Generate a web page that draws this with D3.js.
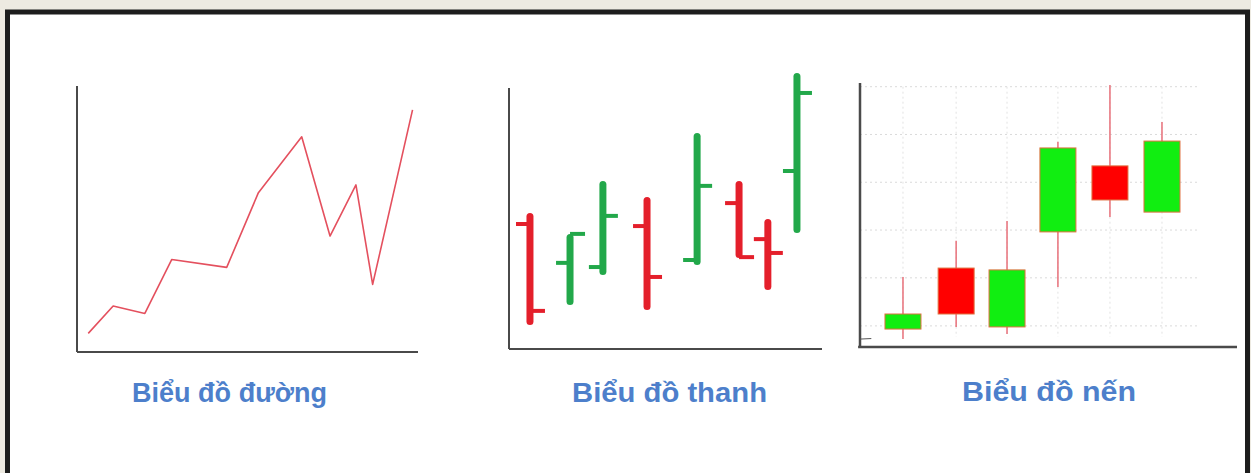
<!DOCTYPE html>
<html>
<head>
<meta charset="utf-8">
<script src="https://cdn.jsdelivr.net/npm/d3@7"></script>
<style>
  html, body { margin: 0; padding: 0; background: #edeae1; }
  svg { display: block; }
</style>
</head>
<body>
<svg id="chart" width="1251" height="473"></svg>
<script>
// ---------- DATA ----------
// Line chart ("Biểu đồ đường")
const lineX = [3.3, 10.6, 19.9, 27.8, 43.9, 53.2, 65.9, 74.2, 81.8, 86.7, 98.4];
const lineY = [7.0, 17.3, 14.5, 34.8, 31.8, 59.9, 80.9, 43.6, 62.8, 25.4, 91.0];

// Bar (OHLC) chart ("Biểu đồ thanh")
const barX     = [6.7, 19.5, 30.0, 44.1, 60.1, 73.5, 82.7, 92.0];
const barOpen  = [47.9, 33.0, 31.4, 47.1, 34.1, 55.9, 42.1, 68.2];
const barHigh  = [52.1, 44.1, 64.4, 58.2, 82.8, 64.4, 49.8, 105.7];
const barLow   = [9.2, 16.9, 28.4, 14.9, 32.2, 34.9, 22.6, 44.4];
const barClose = [14.6, 44.1, 51.0, 27.6, 62.5, 35.2, 36.8, 98.1];

// Candlestick chart ("Biểu đồ nến")
const candleX     = [11.4, 25.5, 39.0, 52.5, 66.3, 80.1];
const candleOpen  = [6.8, 29.9, 7.6, 43.6, 68.6, 51.1];
const candleHigh  = [26.5, 40.2, 47.7, 77.7, 99.2, 85.2];
const candleLow   = [3.0, 7.6, 4.9, 22.7, 49.2, 51.1];
const candleClose = [12.5, 12.5, 29.2, 75.4, 55.7, 78.0];
const candleGrid  = [8.0, 26.2, 44.3, 62.4, 80.5, 98.6];

// Labels
const titles = ["Biểu đồ đường", "Biểu đồ thanh", "Biểu đồ nến"];

// ---------- DRAW ----------
const svg = d3.select("#chart");
const AXIS = "#4a4a4a";
const LABEL = "#4d7fcb";

// page background + frame
svg.append("rect").attr("x", 0).attr("y", 0).attr("width", 1251).attr("height", 473).attr("fill", "#edeae1");
svg.append("rect").attr("x", 7).attr("y", 12).attr("width", 1241).attr("height", 461).attr("fill", "#ffffff");
const frame = svg.append("g").attr("stroke", "#1d1d1d").attr("stroke-width", 5).attr("fill", "none");
frame.append("path").attr("d", "M7.5,473 L7.5,12 L1247.5,12 L1247.5,473");

// ===== Line chart =====
{
  const x = d3.scaleLinear().domain([0, 100]).range([77, 418]);
  const y = d3.scaleLinear().domain([0, 100]).range([352, 86]);
  const g = svg.append("g");
  g.append("line").attr("x1", x(0)).attr("x2", x(0)).attr("y1", y(100)).attr("y2", y(0))
    .attr("stroke", AXIS).attr("stroke-width", 2);
  g.append("line").attr("x1", x(0)).attr("x2", x(100)).attr("y1", y(0)).attr("y2", y(0))
    .attr("stroke", AXIS).attr("stroke-width", 2);
  const pts = lineX.map((v, i) => [v, lineY[i]]);
  g.append("path").datum(pts)
    .attr("d", d3.line().x(d => x(d[0])).y(d => y(d[1])))
    .attr("fill", "none").attr("stroke", "#e4505e").attr("stroke-width", 1.6)
    .attr("stroke-linejoin", "round");
}

// ===== OHLC bar chart =====
{
  const x = d3.scaleLinear().domain([0, 100]).range([509, 822]);
  const y = d3.scaleLinear().domain([0, 100]).range([349, 88]);
  const g = svg.append("g");
  g.append("line").attr("x1", x(0)).attr("x2", x(0)).attr("y1", y(100)).attr("y2", y(0))
    .attr("stroke", AXIS).attr("stroke-width", 2);
  g.append("line").attr("x1", x(0)).attr("x2", x(100)).attr("y1", y(0)).attr("y2", y(0))
    .attr("stroke", AXIS).attr("stroke-width", 2);
  const data = barX.map((v, i) => ({x: v, o: barOpen[i], h: barHigh[i], l: barLow[i], c: barClose[i]}));
  const col = d => d.c >= d.o ? "#22a84a" : "#e41f2b";
  const bars = g.selectAll("g.bar").data(data).join("g").attr("class", "bar");
  bars.append("line")
    .attr("x1", d => x(d.x) - 14).attr("x2", d => x(d.x))
    .attr("y1", d => y(d.o)).attr("y2", d => y(d.o))
    .attr("stroke", col).attr("stroke-width", 4);
  bars.append("line")
    .attr("x1", d => x(d.x)).attr("x2", d => x(d.x) + 15)
    .attr("y1", d => y(d.c)).attr("y2", d => y(d.c))
    .attr("stroke", col).attr("stroke-width", 4);
  bars.append("line")
    .attr("x1", d => x(d.x)).attr("x2", d => x(d.x))
    .attr("y1", d => y(d.h) + 3.5).attr("y2", d => y(d.l) - 3.5)
    .attr("stroke", col).attr("stroke-width", 7).attr("stroke-linecap", "round");
}

// ===== Candlestick chart =====
{
  const x = d3.scaleLinear().domain([0, 100]).range([860, 1237]);
  const y = d3.scaleLinear().domain([0, 100]).range([347, 83]);
  const g = svg.append("g");
  // grid
  g.selectAll("line.hg").data(candleGrid).join("line").attr("class", "hg")
    .attr("x1", x(0)).attr("x2", x(89.4)).attr("y1", d => y(d)).attr("y2", d => y(d))
    .attr("stroke", "#dadada").attr("stroke-width", 1).attr("stroke-dasharray", "2,3");
  g.selectAll("line.vg").data(candleX).join("line").attr("class", "vg")
    .attr("x1", d => x(d)).attr("x2", d => x(d)).attr("y1", y(98.6)).attr("y2", y(3.8))
    .attr("stroke", "#e2e2e2").attr("stroke-width", 1).attr("stroke-dasharray", "2,3");
  // axes
  g.append("line").attr("x1", x(0)).attr("x2", x(0)).attr("y1", y(100)).attr("y2", y(0))
    .attr("stroke", AXIS).attr("stroke-width", 2.5);
  g.append("line").attr("x1", x(-0.5)).attr("x2", x(100)).attr("y1", y(0)).attr("y2", y(0))
    .attr("stroke", AXIS).attr("stroke-width", 2.5);
  g.append("line").attr("x1", x(0)).attr("x2", x(3)).attr("y1", y(3)).attr("y2", y(3.2))
    .attr("stroke", "#555").attr("stroke-width", 1);
  const data = candleX.map((v, i) => ({x: v, o: candleOpen[i], h: candleHigh[i], l: candleLow[i], c: candleClose[i]}));
  const c = g.selectAll("g.candle").data(data).join("g").attr("class", "candle");
  c.append("line")
    .attr("x1", d => x(d.x)).attr("x2", d => x(d.x))
    .attr("y1", d => y(d.h)).attr("y2", d => y(d.l))
    .attr("stroke", "#e8707a").attr("stroke-width", 1.5);
  c.append("rect")
    .attr("x", d => x(d.x) - 18).attr("width", 36)
    .attr("y", d => y(Math.max(d.o, d.c)))
    .attr("height", d => Math.abs(y(d.o) - y(d.c)))
    .attr("fill", d => d.c >= d.o ? "#11ee11" : "#ff0000")
    .attr("stroke", "#e07040").attr("stroke-width", 1);
}

// ===== Titles =====
const titlePos = [[229.5, 402, 195], [669.5, 402, 195], [1049, 401, 174]];
svg.selectAll("text.title").data(titles).join("text").attr("class", "title")
  .attr("x", (d, i) => titlePos[i][0]).attr("y", (d, i) => titlePos[i][1])
  .attr("text-anchor", "middle")
  .attr("textLength", (d, i) => titlePos[i][2]).attr("lengthAdjust", "spacingAndGlyphs")
  .attr("font-family", "'Liberation Sans', Arial, sans-serif")
  .attr("font-size", 27).attr("font-weight", "bold")
  .attr("fill", LABEL)
  .text(d => d);
</script>
</body>
</html>
